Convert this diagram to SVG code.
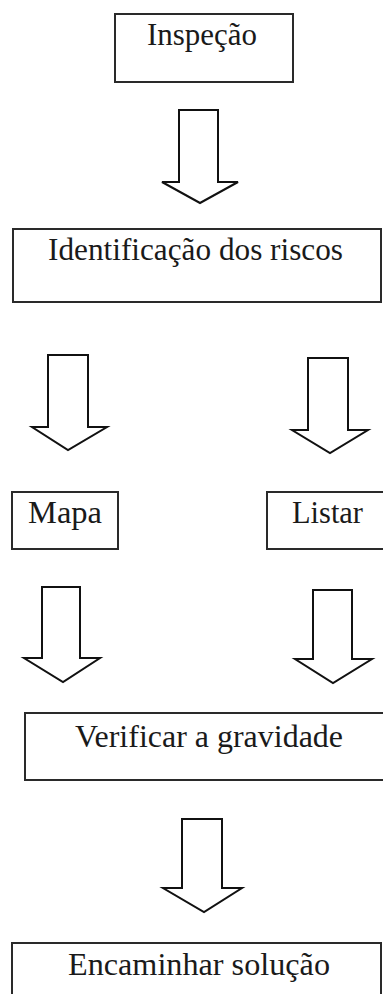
<svg xmlns="http://www.w3.org/2000/svg" width="383" height="994" viewBox="0 0 383 994">
<style>
.box{fill:#fff;stroke:#2a2a2a;stroke-width:2}
.arr{fill:#fff;stroke:#111;stroke-width:2;stroke-linejoin:miter}
.t{font-family:"Liberation Serif","Times New Roman",serif;font-size:31px;fill:#1a1a1a}
</style>
<rect width="383" height="994" fill="#fff"/>
<g id="inspecao">
<rect class="box" x="115" y="14" width="178" height="68"/>
<text class="t" x="147" y="45" textLength="110" lengthAdjust="spacingAndGlyphs">Inspeção</text>
</g>
<g id="identificacao">
<rect class="box" x="13" y="229" width="368" height="73"/>
<text class="t" x="48" y="260" textLength="295" lengthAdjust="spacingAndGlyphs">Identificação dos riscos</text>
</g>
<g id="mapa">
<rect class="box" x="12" y="492" width="106" height="57"/>
<text class="t" x="28" y="523" textLength="74" lengthAdjust="spacingAndGlyphs">Mapa</text>
</g>
<g id="listar">
<rect class="box" x="267" y="492" width="130" height="57"/>
<text class="t" x="292" y="523" textLength="71" lengthAdjust="spacingAndGlyphs">Listar</text>
</g>
<g id="verificar">
<rect class="box" x="25" y="713" width="370" height="67"/>
<text class="t" x="75" y="747" textLength="268" lengthAdjust="spacingAndGlyphs">Verificar a gravidade</text>
</g>
<g id="encaminhar">
<rect class="box" x="12" y="943" width="369" height="70"/>
<text class="t" x="68" y="975" textLength="262" lengthAdjust="spacingAndGlyphs">Encaminhar solução</text>
</g>
<g id="connectors">
<path class="arr" d="M179,110 L218,110 L218,182 L238,182 L200,203 L162,182 L179,182 Z"/>
<path class="arr" d="M48,355 L88,355 L88,427 L107,427 L68,450 L32,427 L48,427 Z"/>
<path class="arr" d="M308,358 L348,358 L348,430 L368,430 L330,453 L292,430 L308,430 Z"/>
<path class="arr" d="M42,587 L80,587 L80,658 L100,658 L63,682 L24,658 L42,658 Z"/>
<path class="arr" d="M313,590 L352,590 L352,659 L372,659 L333,683 L295,659 L313,659 Z"/>
<path class="arr" d="M182,819 L222,819 L222,888 L242,888 L204,912 L163,888 L182,888 Z"/>
</g>
</svg>
